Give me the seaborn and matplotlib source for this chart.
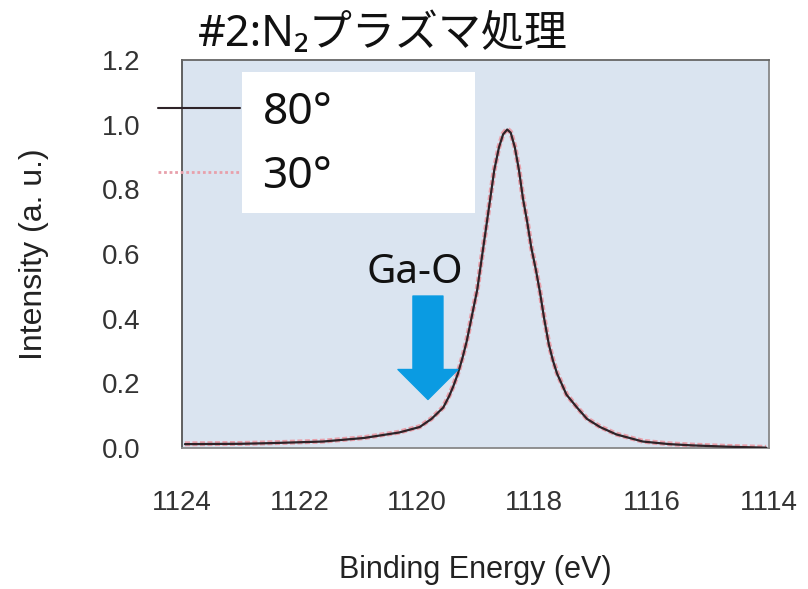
import matplotlib
matplotlib.use("Agg")
import matplotlib.pyplot as plt
from matplotlib.patches import Rectangle
import seaborn as sns
import pandas as pd

# Ga 2p3/2 spectra, N2 plasma treated sample, two take-off angles
energy_80 = [1123.95, 1123.0, 1122.5, 1121.6, 1120.9, 1120.3, 1119.95, 1119.75,
             1119.55, 1119.45, 1119.38, 1119.30, 1119.22, 1119.15, 1119.06,
             1118.97, 1118.86, 1118.75, 1118.68, 1118.60, 1118.53, 1118.46,
             1118.40, 1118.33, 1118.26, 1118.19, 1118.12, 1118.05, 1117.97,
             1117.90, 1117.83, 1117.75, 1117.68, 1117.61, 1117.45, 1117.27,
             1117.10, 1116.88, 1116.60, 1116.15, 1115.70, 1115.30, 1114.70,
             1114.05]
intensity_80 = [0.012, 0.013, 0.015, 0.020, 0.031, 0.048, 0.065, 0.090,
                0.125, 0.160, 0.190, 0.230, 0.280, 0.330, 0.410,
                0.490, 0.630, 0.770, 0.860, 0.930, 0.970, 0.985,
                0.975, 0.930, 0.860, 0.770, 0.700, 0.620, 0.550,
                0.480, 0.400, 0.320, 0.270, 0.230, 0.165, 0.125,
                0.090, 0.065, 0.042, 0.020, 0.012, 0.008, 0.004,
                0.001]

energy_30 = list(energy_80)
intensity_30 = [0.013, 0.014, 0.016, 0.021, 0.032, 0.049, 0.066, 0.091,
                0.126, 0.162, 0.191, 0.232, 0.281, 0.332, 0.412,
                0.492, 0.632, 0.772, 0.862, 0.932, 0.972, 0.987,
                0.977, 0.932, 0.862, 0.772, 0.702, 0.622, 0.552,
                0.482, 0.402, 0.322, 0.272, 0.232, 0.166, 0.126,
                0.091, 0.066, 0.043, 0.021, 0.013, 0.009, 0.005,
                0.002]

series_labels = ["80°", "30°"]
x_ticks = [1124, 1122, 1120, 1118, 1116, 1114]
y_ticks = [0.0, 0.2, 0.4, 0.6, 0.8, 1.0, 1.2]

title_text = "#2:N₂プラズマ処理"
annot_text = "Ga-O"
annot_x = 1119.81
annot_tip_y = 0.15
annot_tail_y = 0.47

sns.set_style("white")
plt.rcParams["font.family"] = ["Noto Sans CJK JP", "DejaVu Sans"]
label_family = ["Noto Sans", "Noto Sans CJK JP", "DejaVu Sans"]

df80 = pd.DataFrame({"energy": energy_80, "intensity": intensity_80})
df30 = pd.DataFrame({"energy": energy_30, "intensity": intensity_30})

fig = plt.figure(figsize=(8.08, 5.89), dpi=100)
ax = fig.add_axes([182 / 808, 1 - 448 / 589, (769 - 182) / 808, (448 - 60) / 589])
ax.set_facecolor("#dae4f0")

sns.lineplot(data=df30, x="energy", y="intensity", ax=ax, color="#e8a0ab",
             linewidth=3.6, linestyle=(0, (1, 0.5)), sort=False,
             label=series_labels[1], zorder=2)
sns.lineplot(data=df80, x="energy", y="intensity", ax=ax, color="#2e2328",
             linewidth=1.6, sort=False, label=series_labels[0], zorder=3)

ax.set_xlim(1124, 1114)
ax.set_ylim(0, 1.2)
ax.set_xticks(x_ticks)
ax.set_yticks(y_ticks)

tick_font = dict(family=["Liberation Sans", "DejaVu Sans"], size=20, color="#333333")
ax.set_xticklabels([str(t) for t in x_ticks], **tick_font)
ax.set_yticklabels([f"{t:.1f}" for t in y_ticks], **tick_font)
ax.tick_params(axis="x", direction="in", length=6, width=1, color="#888888", pad=30)
ax.tick_params(axis="y", length=0, pad=30)

for side, sp in ax.spines.items():
    sp.set_visible(True)
    sp.set_linewidth(1.3)
    sp.set_color("#888888")
ax.spines["left"].set_color("#555555")
ax.spines["top"].set_color("#666666")

ax.set_xlabel("Binding Energy (eV)", family=["Liberation Sans", "DejaVu Sans"],
              size=22, color="#222222", labelpad=28)
ax.set_ylabel("Intensity (a. u.)", family=["Liberation Sans", "DejaVu Sans"],
              size=23, color="#222222", labelpad=38)

# Legend: line samples sit left of a white label box
handles, labels = ax.get_legend_handles_labels()
order = [labels.index(s) for s in series_labels]
leg = ax.legend([handles[i] for i in order], [labels[i] for i in order],
                loc="upper left", bbox_to_anchor=(158 / 808, 1 - 91 / 589),
                bbox_transform=fig.transFigure, frameon=False,
                prop=dict(family=label_family, size=32),
                handlelength=1.85, handletextpad=0.5, labelspacing=0.45,
                borderpad=0, borderaxespad=0)
leg.set_zorder(6)
for h in leg.get_lines():
    h.set_linewidth(1.5)
leg.get_lines()[1].set_linestyle((0, (1, 1)))
leg.get_lines()[1].set_linewidth(2)
for t in leg.get_texts():
    t.set_color("#111111")

ax.add_patch(Rectangle((242 / 808, 1 - 213 / 589), (475 - 242) / 808,
                       (213 - 72) / 589, transform=fig.transFigure,
                       facecolor="white", edgecolor="none", zorder=5,
                       clip_on=False))

# Ga-O annotation arrow
ax.annotate("", xy=(annot_x, annot_tip_y), xytext=(annot_x, annot_tail_y),
            arrowprops=dict(arrowstyle="simple,head_length=1.08,head_width=2.16,tail_width=1.08",
                            color="#0a9be2", mutation_scale=20, shrinkA=0, shrinkB=0),
            zorder=4)
ax.text(1120.03, 0.54, annot_text, ha="center", va="center", size=29,
        color="#111111", family=label_family, zorder=4)

fig.text(383 / 808, 1 - 35 / 589, title_text, ha="center", va="center", size=31,
         color="#111111", family=label_family)

fig.savefig("out.png", dpi=100, facecolor="white")
